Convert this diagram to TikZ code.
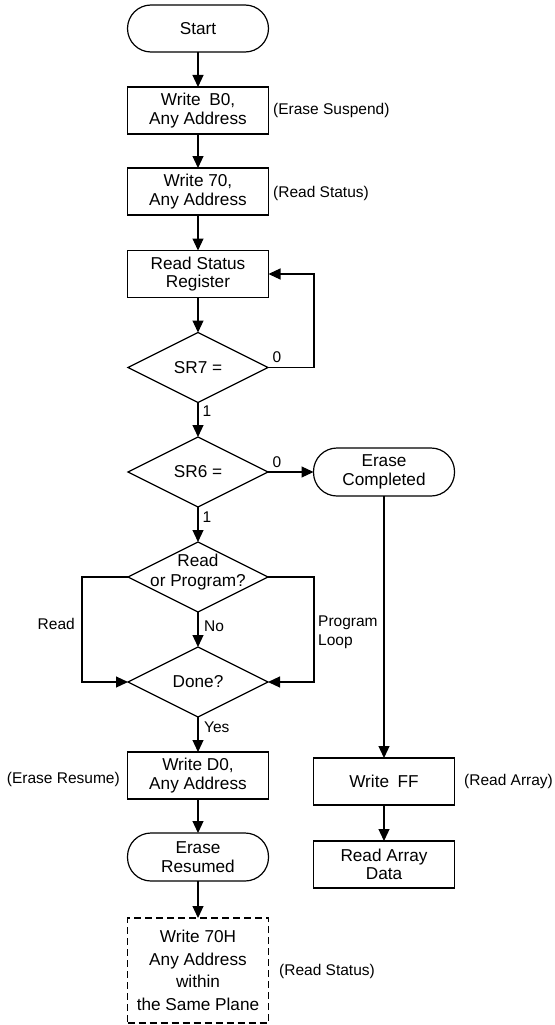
\documentclass[tikz,border=0pt]{standalone}
\usepackage{fontspec}
\setmainfont{Liberation Sans}
\usetikzlibrary{shapes.geometric,arrows.meta}
\begin{document}
\begin{tikzpicture}[x=1pt,y=-1pt,
  box/.style={draw,line width=1.2pt,minimum width=141pt,minimum height=47pt,inner sep=0pt,outer sep=0pt,align=center,font=\fontsize{17.2}{18.5}\selectfont},
  term/.style={box,rounded corners=23.5pt},
  dia/.style={draw,line width=1.2pt,diamond,minimum width=140pt,minimum height=70pt,inner sep=0pt,outer sep=0pt},
  dtext/.style={align=center,inner sep=0pt,font=\fontsize{17.2}{19.5}\selectfont},
  lab/.style={inner sep=0pt,font=\fontsize{15.5}{19}\selectfont},
  arr/.style={line width=1.2pt,-{Triangle[length=12pt,width=11pt]}},
  dashbox/.style={box,dash pattern=on 7pt off 4pt,minimum height=105pt,font=\fontsize{17.2}{22.5}\selectfont}]
\useasboundingbox (0,0) rectangle (554,1025);
\node[term] (start) at (198,28.5) {Start};
\node[box] (b0) at (198,110.5) {Write\hskip0.5em B0,\\Any Address};
\node[box] (w70) at (198,191.5) {Write 70,\\Any Address};
\node[box] (rsr) at (198,274) {Read Status\\Register};
\node[dia] (sr7) at (198,367.5) {};
\node[dtext] (sr7t) at (sr7) {SR7 =};
\node[dia] (sr6) at (198,472) {};
\node[dtext] (sr6t) at (sr6) {SR6 =};
\node[term,minimum height=48pt] (ec) at (384,472) {Erase\\Completed};
\node[dia] (rp) at (198,577) {};
\node[dtext] (rpt) at (198,572) {Read\\or Program?};
\node[dia] (done) at (198,682) {};
\node[dtext] (donet) at (done) {Done?};
\node[box] (d0) at (198,775.5) {Write D0,\\Any Address};
\node[box] (wff) at (384,781.5) {Write\hskip0.5em FF};
\node[term,minimum height=48pt] (er) at (198,857) {Erase\\Resumed};
\node[box] (rad) at (384,864.5) {Read Array\\Data};
\node[dashbox] (w70h) at (198,970.5) {Write 70H\\Any Address\\within\\the Same Plane};

\draw[arr] (start) -- (b0);
\draw[arr] (b0) -- (w70);
\draw[arr] (w70) -- (rsr);
\draw[arr] (rsr) -- (sr7);
\draw[arr] (sr7.east) -- ++(46,0) |- (rsr.east);
\draw[arr] (sr7.south) -- (sr6.north);
\draw[arr] (sr6.east) -- (ec.west);
\draw[arr] (sr6.south) -- (rp.north);
\draw[arr] (rp.west) -- ++(-46,0) |- (done.west);
\draw[arr] (rp.east) -- ++(46,0) |- (done.east);
\draw[arr] (rp.south) -- (done.north);
\draw[arr] (done.south) -- (d0.north);
\draw[arr] (d0) -- (er);
\draw[arr] (er) -- (w70h);
\draw[arr] (ec) -- (wff);
\draw[arr] (wff) -- (rad);

\node[lab,anchor=west] (l1) at (273,110) {(Erase Suspend)};
\node[lab,anchor=west] (l2) at (273,193) {(Read Status)};
\node[lab] (l3) at (277,357) {0};
\node[lab] (l4) at (207,411) {1};
\node[lab] (l5) at (277,462) {0};
\node[lab] (l6) at (207,517) {1};
\node[lab,anchor=east] (l7) at (75,624) {Read};
\node[lab,anchor=west] (l8) at (204,626) {No};
\node[lab,anchor=west,align=left] (l9) at (318,632) {Program\\Loop};
\node[lab,anchor=west] (l10) at (204,727) {Yes};
\node[lab,anchor=east] (l11) at (120,779) {(Erase Resume)};
\node[lab,anchor=west] (l12) at (464,781) {(Read Array)};
\node[lab,anchor=west] (l13) at (279,971) {(Read Status)};
\end{tikzpicture}
\end{document}
